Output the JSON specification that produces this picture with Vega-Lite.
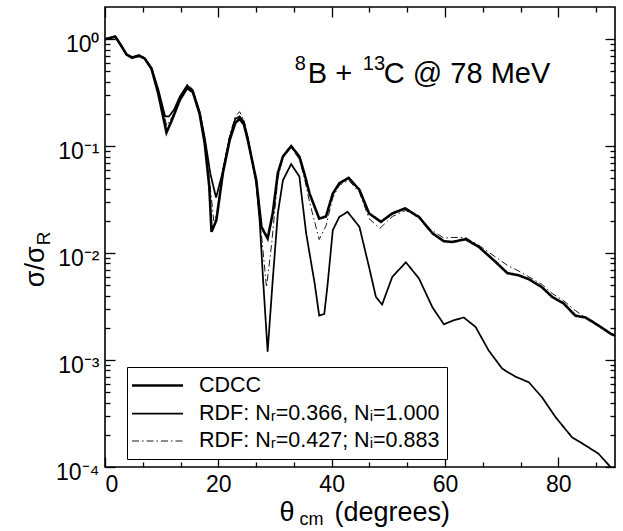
{
  "$schema": "https://vega.github.io/schema/vega-lite/v6.json",
  "width": 510,
  "height": 460,
  "autosize": {"type": "none"},
  "padding": {"left": 105, "top": 7, "right": 8, "bottom": 64},
  "background": "white",
  "config": {
    "font": "Liberation Sans",
    "view": {"stroke": "black", "strokeWidth": 1.6},
    "axis": {"domain": false, "grid": false, "tickColor": "black", "tickWidth": 1.3, "labelColor": "black", "labelFont": "Liberation Sans", "labelOverlap": false, "labelBound": false, "title": null}
  },
  "data": {"values": [
    {"s":"CDCC","x":0,"y":1.0},{"s":"CDCC","x":1.0,"y":1.03},{"s":"CDCC","x":1.8,"y":1.06},{"s":"CDCC","x":2.8,"y":0.88},{"s":"CDCC","x":3.8,"y":0.72},{"s":"CDCC","x":4.8,"y":0.67},{"s":"CDCC","x":6.0,"y":0.70},{"s":"CDCC","x":7.0,"y":0.66},{"s":"CDCC","x":8.2,"y":0.53},{"s":"CDCC","x":9.4,"y":0.31},{"s":"CDCC","x":10.85,"y":0.134},{"s":"CDCC","x":11.9,"y":0.18},{"s":"CDCC","x":13.2,"y":0.27},{"s":"CDCC","x":14.5,"y":0.35},{"s":"CDCC","x":15.5,"y":0.32},{"s":"CDCC","x":16.7,"y":0.20},{"s":"CDCC","x":17.6,"y":0.106},{"s":"CDCC","x":18.4,"y":0.042},{"s":"CDCC","x":18.8,"y":0.0158},{"s":"CDCC","x":19.65,"y":0.0203},{"s":"CDCC","x":20.8,"y":0.056},{"s":"CDCC","x":22.0,"y":0.114},{"s":"CDCC","x":23.0,"y":0.165},{"s":"CDCC","x":23.75,"y":0.18},{"s":"CDCC","x":24.5,"y":0.16},{"s":"CDCC","x":25.2,"y":0.114},{"s":"CDCC","x":26.7,"y":0.048},{"s":"CDCC","x":27.6,"y":0.0176},{"s":"CDCC","x":28.7,"y":0.0137},{"s":"CDCC","x":29.6,"y":0.0235},{"s":"CDCC","x":30.5,"y":0.056},{"s":"CDCC","x":31.4,"y":0.08},{"s":"CDCC","x":32.85,"y":0.1},{"s":"CDCC","x":34.3,"y":0.08},{"s":"CDCC","x":35.2,"y":0.055},{"s":"CDCC","x":36.1,"y":0.036},{"s":"CDCC","x":37.8,"y":0.021},{"s":"CDCC","x":39.0,"y":0.022},{"s":"CDCC","x":40.2,"y":0.036},{"s":"CDCC","x":41.35,"y":0.045},{"s":"CDCC","x":43.0,"y":0.0506},{"s":"CDCC","x":44.9,"y":0.039},{"s":"CDCC","x":46.6,"y":0.0235},{"s":"CDCC","x":48.7,"y":0.0196},{"s":"CDCC","x":50.7,"y":0.0235},{"s":"CDCC","x":53.0,"y":0.0262},{"s":"CDCC","x":54.8,"y":0.0227},{"s":"CDCC","x":55.4,"y":0.0218},{"s":"CDCC","x":57.8,"y":0.0153},{"s":"CDCC","x":59.8,"y":0.0129},{"s":"CDCC","x":61.3,"y":0.0127},{"s":"CDCC","x":63.6,"y":0.0135},{"s":"CDCC","x":66.0,"y":0.0114},{"s":"CDCC","x":68.9,"y":0.0083},{"s":"CDCC","x":71.0,"y":0.0065},{"s":"CDCC","x":73.0,"y":0.0062},{"s":"CDCC","x":74.8,"y":0.0057},{"s":"CDCC","x":77.1,"y":0.0048},{"s":"CDCC","x":78.9,"y":0.0039},{"s":"CDCC","x":80.9,"y":0.0034},{"s":"CDCC","x":83.0,"y":0.0026},{"s":"CDCC","x":84.8,"y":0.0025},{"s":"CDCC","x":87.1,"y":0.0021},{"s":"CDCC","x":89.4,"y":0.00174},{"s":"CDCC","x":90,"y":0.0017},

    {"s":"RDF1","x":0,"y":1.0},{"s":"RDF1","x":1.8,"y":1.06},{"s":"RDF1","x":3.8,"y":0.72},{"s":"RDF1","x":4.8,"y":0.68},{"s":"RDF1","x":6.0,"y":0.71},{"s":"RDF1","x":7.0,"y":0.66},{"s":"RDF1","x":8.2,"y":0.54},{"s":"RDF1","x":9.4,"y":0.34},{"s":"RDF1","x":10.6,"y":0.19},{"s":"RDF1","x":11.3,"y":0.19},{"s":"RDF1","x":12.2,"y":0.22},{"s":"RDF1","x":13.2,"y":0.29},{"s":"RDF1","x":14.5,"y":0.37},{"s":"RDF1","x":15.5,"y":0.33},{"s":"RDF1","x":16.7,"y":0.21},{"s":"RDF1","x":17.6,"y":0.12},{"s":"RDF1","x":18.6,"y":0.055},{"s":"RDF1","x":19.6,"y":0.033},{"s":"RDF1","x":20.8,"y":0.058},{"s":"RDF1","x":22.0,"y":0.12},{"s":"RDF1","x":23.0,"y":0.18},{"s":"RDF1","x":23.75,"y":0.19},{"s":"RDF1","x":24.5,"y":0.17},{"s":"RDF1","x":25.2,"y":0.12},{"s":"RDF1","x":26.7,"y":0.045},{"s":"RDF1","x":27.3,"y":0.02},{"s":"RDF1","x":27.9,"y":0.0056},{"s":"RDF1","x":28.7,"y":0.0012},{"s":"RDF1","x":29.6,"y":0.0056},{"s":"RDF1","x":30.5,"y":0.0235},{"s":"RDF1","x":31.4,"y":0.048},{"s":"RDF1","x":32.85,"y":0.068},{"s":"RDF1","x":34.3,"y":0.052},{"s":"RDF1","x":35.5,"y":0.0153},{"s":"RDF1","x":37.0,"y":0.0052},{"s":"RDF1","x":37.8,"y":0.0026},{"s":"RDF1","x":38.7,"y":0.0027},{"s":"RDF1","x":39.3,"y":0.0052},{"s":"RDF1","x":40.2,"y":0.0164},{"s":"RDF1","x":41.35,"y":0.0218},{"s":"RDF1","x":42.8,"y":0.0243},{"s":"RDF1","x":44.9,"y":0.0176},{"s":"RDF1","x":46.6,"y":0.0074},{"s":"RDF1","x":47.8,"y":0.0039},{"s":"RDF1","x":48.9,"y":0.0033},{"s":"RDF1","x":50.7,"y":0.006},{"s":"RDF1","x":53.1,"y":0.0082},{"s":"RDF1","x":55.4,"y":0.0058},{"s":"RDF1","x":57.8,"y":0.0031},{"s":"RDF1","x":59.8,"y":0.00216},{"s":"RDF1","x":61.6,"y":0.00236},{"s":"RDF1","x":63.3,"y":0.0025},{"s":"RDF1","x":65.4,"y":0.00204},{"s":"RDF1","x":67.7,"y":0.00123},{"s":"RDF1","x":70.1,"y":0.00083},{"s":"RDF1","x":72.4,"y":0.0007},{"s":"RDF1","x":74.8,"y":0.00062},{"s":"RDF1","x":77.1,"y":0.00045},{"s":"RDF1","x":79.5,"y":0.000293},{"s":"RDF1","x":82.4,"y":0.00019},{"s":"RDF1","x":84.8,"y":0.000159},{"s":"RDF1","x":87.1,"y":0.000133},{"s":"RDF1","x":89.2,"y":0.0001},{"s":"RDF1","x":90,"y":0.000092},

    {"s":"RDF2","x":0,"y":1.0},{"s":"RDF2","x":1.8,"y":1.06},{"s":"RDF2","x":3.8,"y":0.72},{"s":"RDF2","x":4.8,"y":0.67},{"s":"RDF2","x":6.0,"y":0.70},{"s":"RDF2","x":7.0,"y":0.66},{"s":"RDF2","x":8.2,"y":0.54},{"s":"RDF2","x":9.4,"y":0.33},{"s":"RDF2","x":10.9,"y":0.155},{"s":"RDF2","x":11.9,"y":0.19},{"s":"RDF2","x":13.2,"y":0.28},{"s":"RDF2","x":14.5,"y":0.38},{"s":"RDF2","x":15.5,"y":0.34},{"s":"RDF2","x":16.7,"y":0.21},{"s":"RDF2","x":17.6,"y":0.11},{"s":"RDF2","x":18.5,"y":0.045},{"s":"RDF2","x":19.2,"y":0.02},{"s":"RDF2","x":20.0,"y":0.025},{"s":"RDF2","x":20.8,"y":0.06},{"s":"RDF2","x":22.0,"y":0.125},{"s":"RDF2","x":23.0,"y":0.19},{"s":"RDF2","x":23.75,"y":0.21},{"s":"RDF2","x":24.5,"y":0.175},{"s":"RDF2","x":25.2,"y":0.12},{"s":"RDF2","x":26.7,"y":0.045},{"s":"RDF2","x":27.6,"y":0.015},{"s":"RDF2","x":28.5,"y":0.0048},{"s":"RDF2","x":29.4,"y":0.012},{"s":"RDF2","x":30.5,"y":0.05},{"s":"RDF2","x":31.4,"y":0.078},{"s":"RDF2","x":32.85,"y":0.098},{"s":"RDF2","x":34.3,"y":0.075},{"s":"RDF2","x":35.2,"y":0.05},{"s":"RDF2","x":36.1,"y":0.03},{"s":"RDF2","x":37.8,"y":0.0134},{"s":"RDF2","x":39.0,"y":0.018},{"s":"RDF2","x":40.2,"y":0.033},{"s":"RDF2","x":41.35,"y":0.043},{"s":"RDF2","x":43.0,"y":0.048},{"s":"RDF2","x":44.9,"y":0.037},{"s":"RDF2","x":46.6,"y":0.021},{"s":"RDF2","x":48.5,"y":0.017},{"s":"RDF2","x":50.7,"y":0.022},{"s":"RDF2","x":53.0,"y":0.025},{"s":"RDF2","x":54.8,"y":0.023},{"s":"RDF2","x":57.2,"y":0.017},{"s":"RDF2","x":59.8,"y":0.0138},{"s":"RDF2","x":61.3,"y":0.014},{"s":"RDF2","x":63.6,"y":0.014},{"s":"RDF2","x":66.0,"y":0.0118},{"s":"RDF2","x":68.9,"y":0.0092},{"s":"RDF2","x":71.0,"y":0.0077},{"s":"RDF2","x":73.0,"y":0.0068},{"s":"RDF2","x":74.8,"y":0.006},{"s":"RDF2","x":77.1,"y":0.0051},{"s":"RDF2","x":78.9,"y":0.0042},{"s":"RDF2","x":80.9,"y":0.0036},{"s":"RDF2","x":83.0,"y":0.0029},{"s":"RDF2","x":84.8,"y":0.0025},{"s":"RDF2","x":87.1,"y":0.0021},{"s":"RDF2","x":89.4,"y":0.00174},{"s":"RDF2","x":90,"y":0.0017}
  ]},
  "layer": [
    {
      "mark": {"type": "line", "clip": true},
      "encoding": {
        "x": {"field": "x", "type": "quantitative", "scale": {"domain": [0, 90], "nice": false, "zero": false},
          "axis": {"orient": "bottom", "values": [0,6.6667,13.3333,20,26.6667,33.3333,40,46.6667,53.3333,60,66.6667,73.3333,80,86.6667],
            "tickSize": {"condition": {"test": "abs(datum.value/20 - round(datum.value/20)) < 0.001", "value": -10}, "value": -5},
            "labelExpr": "abs(datum.value/20 - round(datum.value/20)) < 0.001 ? datum.label : ''",
            "labelFontSize": 23, "labelPadding": 16}},
        "y": {"field": "y", "type": "quantitative", "scale": {"type": "log", "domain": [0.0001, 2], "nice": false},
          "axis": {"orient": "left", "values": [0.0001,0.0002,0.0003,0.0004,0.0005,0.0006,0.0007,0.0008,0.0009,0.001,0.002,0.003,0.004,0.005,0.006,0.007,0.008,0.009,0.01,0.02,0.03,0.04,0.05,0.06,0.07,0.08,0.09,0.1,0.2,0.3,0.4,0.5,0.6,0.7,0.8,0.9,1],
            "tickSize": {"condition": {"test": "indexof([0.0001,0.001,0.01,0.1,1], datum.value) >= 0", "value": -10}, "value": -5},
            "labelExpr": "datum.value == 1 ? '10⁰' : datum.value == 0.1 ? '10⁻¹' : datum.value == 0.01 ? '10⁻²' : datum.value == 0.001 ? '10⁻³' : datum.value == 0.0001 ? '10⁻⁴' : ''",
            "labelFontSize": 23, "labelPadding": 16, "labelOffset": 5}},
        "color": {"field": "s", "type": "nominal", "scale": {"domain": ["CDCC","RDF1","RDF2"], "range": ["black","black","black"]},
          "legend": {"title": null, "orient": "none", "legendX": 22, "legendY": 360, "strokeColor": "black", "padding": 7, "fillColor": "white",
            "symbolType": "M-2.5,0h5", "symbolSize": 416, "symbolOffset": 12, "labelOffset": 30, "rowPadding": 6,
            "labelFontSize": 21.5, "labelFont": "Liberation Sans", "labelColor": "black", "labelLimit": 400,
            "labelExpr": "datum.value == 'CDCC' ? 'CDCC' : datum.value == 'RDF1' ? 'RDF: Nᵣ=0.366, Nᵢ=1.000' : 'RDF: Nᵣ=0.427; Nᵢ=0.883'"}},
        "strokeDash": {"field": "s", "type": "nominal", "scale": {"domain": ["CDCC","RDF1","RDF2"], "range": [[1,0],[1,0],[7,3,1.5,3]]}},
        "strokeWidth": {"field": "s", "type": "nominal", "scale": {"domain": ["CDCC","RDF1","RDF2"], "range": [2.6, 0.9, 1.2]}}
      }
    },
    {
      "mark": {"type": "point", "opacity": 0},
      "encoding": {
        "x": {"field": "x", "type": "quantitative",
          "axis": {"orient": "top", "values": [0,6.6667,13.3333,20,26.6667,33.3333,40,46.6667,53.3333,60,66.6667,73.3333,80,86.6667],
            "tickSize": {"condition": {"test": "abs(datum.value/20 - round(datum.value/20)) < 0.001", "value": -10}, "value": -5},
            "labels": false}},
        "y": {"field": "y", "type": "quantitative",
          "axis": {"orient": "right", "values": [0.0001,0.0002,0.0003,0.0004,0.0005,0.0006,0.0007,0.0008,0.0009,0.001,0.002,0.003,0.004,0.005,0.006,0.007,0.008,0.009,0.01,0.02,0.03,0.04,0.05,0.06,0.07,0.08,0.09,0.1,0.2,0.3,0.4,0.5,0.6,0.7,0.8,0.9,1],
            "tickSize": {"condition": {"test": "indexof([0.0001,0.001,0.01,0.1,1], datum.value) >= 0", "value": -10}, "value": -5},
            "labels": false}}
      }
    },
    {
      "data": {"values": [{"part": "title"}]},
      "layer": [
        {"mark": {"type": "text", "text": "8", "fontSize": 20, "align": "left", "baseline": "alphabetic", "dx": 0, "dy": -13, "color": "black"}},
        {"mark": {"type": "text", "text": "B +", "fontSize": 29, "align": "left", "baseline": "alphabetic", "dx": 13, "color": "black"}},
        {"mark": {"type": "text", "text": "13", "fontSize": 20, "align": "left", "baseline": "alphabetic", "dx": 68, "dy": -13, "color": "black"}},
        {"mark": {"type": "text", "text": "C @ 78 MeV", "fontSize": 29, "align": "left", "baseline": "alphabetic", "dx": 89, "color": "black"}}
      ],
      "encoding": {"x": {"datum": 33.5, "axis": null}, "y": {"datum": 0.39, "axis": null}}
    },
    {
      "data": {"values": [{"part": "xtitle"}]},
      "layer": [
        {"mark": {"type": "text", "text": "θ", "fontSize": 27, "align": "left", "baseline": "alphabetic", "dx": 0, "dy": 54, "color": "black"}},
        {"mark": {"type": "text", "text": "cm", "fontSize": 18, "align": "left", "baseline": "alphabetic", "dx": 20, "dy": 58, "color": "black"}},
        {"mark": {"type": "text", "text": "(degrees)", "fontSize": 27, "align": "left", "baseline": "alphabetic", "dx": 55, "dy": 54, "color": "black"}}
      ],
      "encoding": {"x": {"datum": 30.8, "axis": null}, "y": {"datum": 0.0001, "axis": null}}
    },
    {
      "data": {"values": [{"part": "ytitle"}]},
      "layer": [
        {"mark": {"type": "text", "text": "σ/σ", "fontSize": 27, "angle": 270, "align": "left", "baseline": "alphabetic", "dx": 0, "dy": -61, "color": "black"}},
        {"mark": {"type": "text", "text": "R", "fontSize": 19, "angle": 270, "align": "left", "baseline": "alphabetic", "dx": 42, "dy": -55, "color": "black"}}
      ],
      "encoding": {"x": {"datum": 0, "axis": null}, "y": {"datum": 0.0048, "axis": null}}
    }
  ]
}
